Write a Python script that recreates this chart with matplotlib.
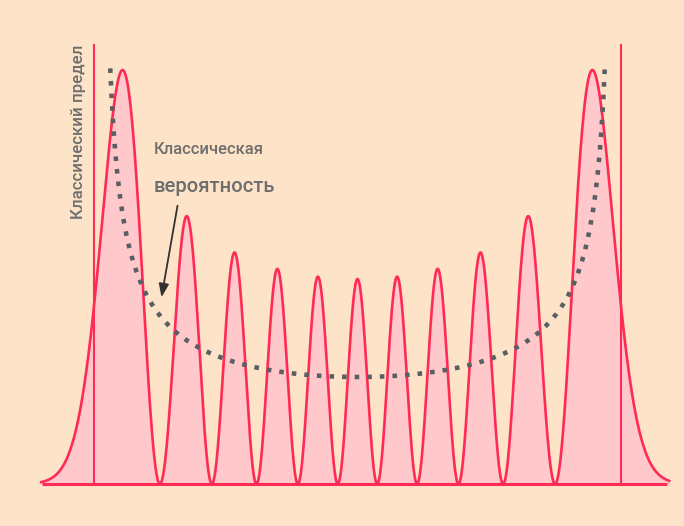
import numpy as np
import matplotlib
matplotlib.use('Agg')
import matplotlib.pyplot as plt
from math import factorial, pi, sqrt
from numpy.polynomial.hermite import hermval

# ─── Данные ───────────────────────────────────────────────────────
n_level = 10                 # квантовое число
x_range = (-5.5, 5.42)       # область графика (безразмерная координата)
classic_amp = sqrt(2 * n_level + 1)   # классический предел
dot_amp = 4.45               # амплитуда для пунктирной кривой
dot_span = 4.30
label_limit = 'Классический предел'
label_prob = ['Классическая', 'вероятность']

# ─── Цвета ────────────────────────────────────────────────────────
C_BG = '#fde3c7'
C_LINE = '#ff2a55'
C_FILL = '#ffc9cc'
C_DOT = '#5a5f63'
C_TEXT = '#6e6e6e'

plt.rcParams['font.family'] = ['Roboto', 'DejaVu Sans']

X0, SX = 357.5, 57.5   # центр и масштаб (пиксели)

x = np.linspace(x_range[0], x_range[1], 2000)
coef = np.zeros(n_level + 1)
coef[n_level] = 1
psi = hermval(x, coef) * np.exp(-x**2 / 2) / sqrt(2**n_level * factorial(n_level) * sqrt(pi))
dens = psi**2
dens = dens / dens.max() * 414

xd = np.linspace(-dot_span, dot_span, 400)
pcl = 107 * dot_amp / np.sqrt(dot_amp**2 - xd**2)

def px(p):
    return (p - X0) / SX

fig = plt.figure(figsize=(6.84, 5.26), dpi=100)
fig.patch.set_facecolor(C_BG)
ax = fig.add_axes([0, 0, 1, 1])
ax.set_facecolor(C_BG)
ax.set_xlim(px(0), px(684))
ax.set_ylim(-42, 484)
ax.axis('off')

ax.fill_between(x, 0, dens, color=C_FILL, zorder=1, lw=0)
ax.plot(x, dens, color=C_LINE, lw=1.9, zorder=3)
ax.plot([px(42), px(667)], [0, 0], color=C_LINE, lw=2.2, zorder=3, solid_capstyle='butt')
for xv in (-classic_amp, classic_amp):
    ax.plot([xv, xv], [0, 439], color=C_LINE, lw=1.5, zorder=2)

ax.plot(xd, pcl, color=C_DOT, lw=3.3, linestyle=(0, (1, 1.75)), zorder=4)

# подписи
ax.text(px(78), 484 - 132, label_limit, rotation=90, ha='center', va='center',
        fontsize=12.2, color=C_TEXT, fontweight='medium')
ax.text(px(154), 484 - 150, label_prob[0], ha='left', va='center',
        fontsize=12.0, color=C_TEXT, fontweight='medium')
ax.text(px(154), 484 - 187, label_prob[1], ha='left', va='center',
        fontsize=14.6, color=C_TEXT, fontweight='medium')
ax.annotate('', xy=(px(161), 484 - 300), xytext=(px(178), 484 - 203),
            arrowprops=dict(arrowstyle='-|>,head_length=0.8,head_width=0.3',
                            color='#333333', lw=1.3), zorder=5)

plt.savefig('out.png', dpi=100, facecolor=fig.get_facecolor())
plt.close()
